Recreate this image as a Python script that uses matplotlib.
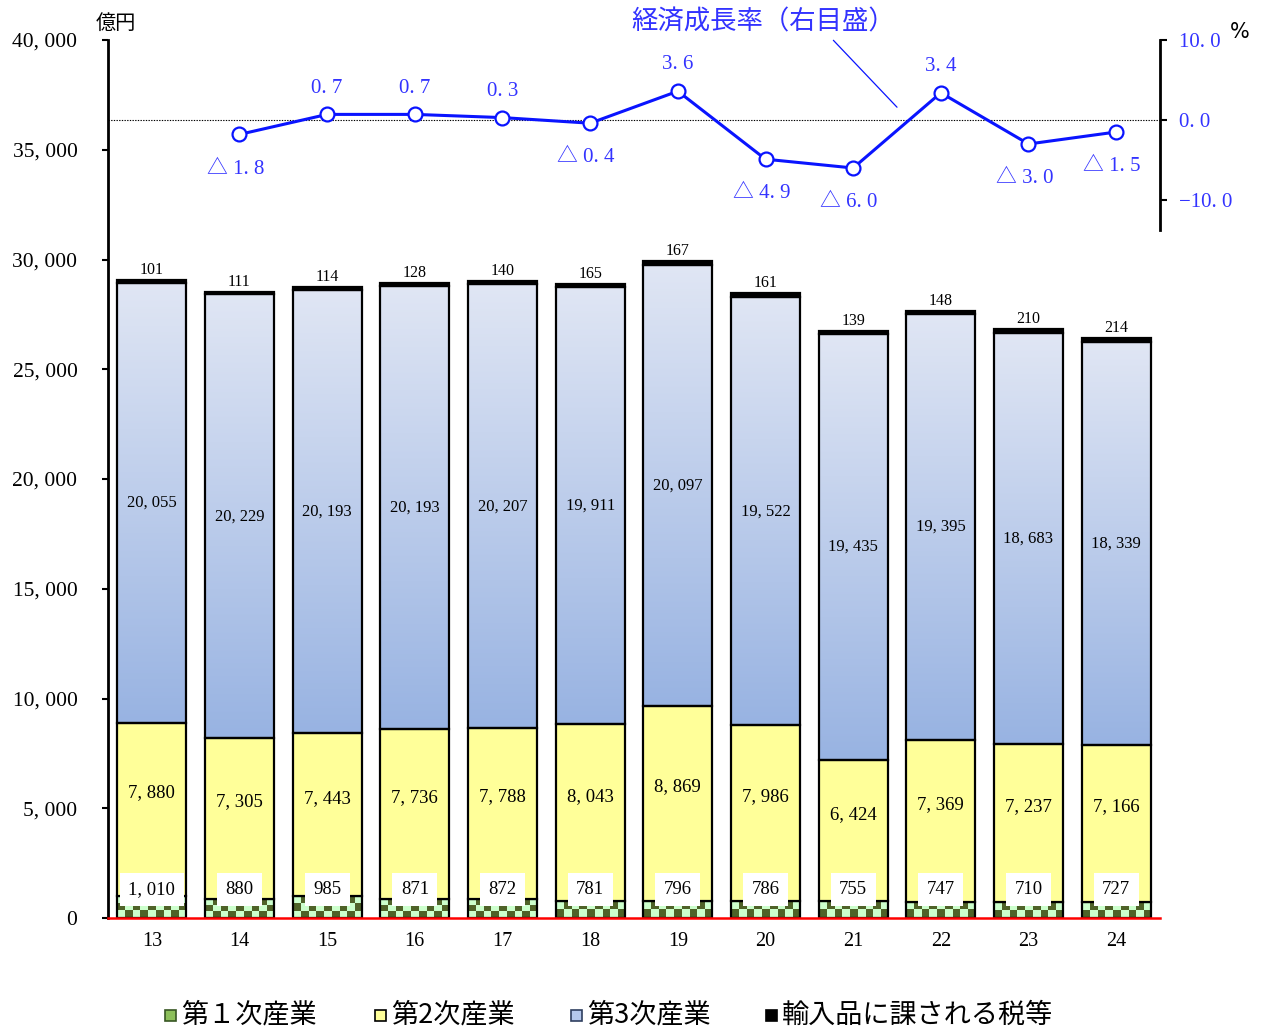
import numpy as np
import matplotlib
matplotlib.use("Agg")
import matplotlib.pyplot as plt
from matplotlib.colors import ListedColormap, LinearSegmentedColormap
from matplotlib.patches import Rectangle

plt.rcParams['font.family'] = ['Liberation Serif', 'Noto Sans CJK JP']

# 年度（平成）
years = ["13", "14", "15", "16", "17", "18", "19", "20", "21", "22", "23", "24"]
# 産業別総生産（億円）
primary = [1010, 880, 985, 871, 872, 781, 796, 786, 755, 747, 710, 727]
secondary = [7880, 7305, 7443, 7736, 7788, 8043, 8869, 7986, 6424, 7369, 7237, 7166]
tertiary = [20055, 20229, 20193, 20193, 20207, 19911, 20097, 19522, 19435, 19395, 18683, 18339]
import_tax = [101, 111, 114, 128, 140, 165, 167, 161, 139, 148, 210, 214]
# 経済成長率（％）: 平成14年度から
growth_years = ["14", "15", "16", "17", "18", "19", "20", "21", "22", "23", "24"]
growth = [-1.8, 0.7, 0.7, 0.3, -0.4, 3.6, -4.9, -6.0, 3.4, -3.0, -1.5]

legend_labels = ["第１次産業", "第2次産業", "第3次産業", "輸入品に課される税等"]

BLUE_TXT = "#3333ff"
LINE_BLUE = "#0a14ff"
W, H = 1263, 1027

fig = plt.figure(figsize=(W / 100, H / 100), dpi=100)
ax = fig.add_axes([108 / W, 1 - 918 / H, (1160 - 108) / W, (918 - 40) / H])

x = np.arange(len(years))
width = 0.79
p = np.array(primary)
s = np.array(secondary)
t = np.array(tertiary)
m = np.array(import_tax)
b_sec = p
b_ter = p + s
b_imp = p + s + t
total = b_imp + m

def fmt(v):
    return f"{v:,}".replace(",", ", ")

edge_kw = dict(edgecolor="black", linewidth=1.6)

# 第1次産業: 市松模様
check_cmap = ListedColormap(["#ccffcc", "#4f6228"])
bars_p = ax.bar(x, p, width, facecolor="none", zorder=3, **edge_kw)
for bar in bars_p:
    x0, y0 = bar.get_x(), bar.get_y()
    bw, bh = bar.get_width(), bar.get_height()
    nrows = max(1, int(round(bh / 320)))
    ncols = 9
    pattern = (np.add.outer(np.arange(nrows), np.arange(ncols)) % 2)
    im = ax.imshow(pattern, cmap=check_cmap, extent=[x0, x0 + bw, y0, y0 + bh],
                   interpolation="nearest", aspect="auto", zorder=2, vmin=0, vmax=1)
    im.set_clip_path(bar)

# 第2次産業
ax.bar(x, s, width, bottom=b_sec, facecolor="#ffff99", zorder=3, **edge_kw)

# 第3次産業: グラデーション
grad_cmap = LinearSegmentedColormap.from_list("ter", ["#e0e6f4", "#98b3e2"])
bars_t = ax.bar(x, t, width, bottom=b_ter, facecolor="none", zorder=3, **edge_kw)
grad = np.linspace(0, 1, 256).reshape(-1, 1)
for bar in bars_t:
    x0, y0 = bar.get_x(), bar.get_y()
    bw, bh = bar.get_width(), bar.get_height()
    im = ax.imshow(grad, cmap=grad_cmap, extent=[x0, x0 + bw, y0, y0 + bh],
                   interpolation="bilinear", aspect="auto", zorder=2)
    im.set_clip_path(bar)

# 輸入品に課される税等
ax.bar(x, m, width, bottom=b_imp, facecolor="black", zorder=3, **edge_kw)

ax.set_xlim(-0.5, 11.5)
ax.set_ylim(0, 40000)

# データラベル
for i in range(len(years)):
    ax.text(x[i], total[i] + 90, str(import_tax[i]), ha="center", va="bottom",
            fontsize=11.5, zorder=5)
    ax.text(x[i], b_ter[i] + t[i] / 2, fmt(tertiary[i]), ha="center", va="center",
            fontsize=12, zorder=5)
    ax.text(x[i], b_sec[i] + s[i] / 2 + 750, fmt(secondary[i]), ha="center",
            va="center", fontsize=13.5, zorder=5)
    ax.text(x[i], 1300, fmt(primary[i]), ha="center", va="center", fontsize=13.5,
            zorder=6, bbox=dict(boxstyle="square,pad=0.45", facecolor="white",
                                edgecolor="none"))

# 軸
ax.set_xticks(x, years)
ax.tick_params(axis="x", length=0, pad=10, labelsize=14.5)
yt = np.arange(0, 40001, 5000)
ax.set_yticks(yt, [fmt(v) for v in yt])
ax.tick_params(axis="y", direction="out", length=4, width=1.5, pad=18, labelsize=15.5)
for side in ("top", "right"):
    ax.spines[side].set_visible(False)
ax.spines["left"].set_linewidth(2)
ax.spines["bottom"].set_color("red")
ax.spines["bottom"].set_linewidth(1.8)
ax.spines["bottom"].set_zorder(4)

# 経済成長率（右目盛）
ax2 = ax.twinx()
ax2.set_ylim(10 - 878 / 8, 10)
ax2.set_xlim(ax.get_xlim())
gx = [years.index(g) for g in growth_years]
ax2.axhline(0, color="black", linestyle=(0, (1.2, 1.2)), linewidth=0.8, zorder=1)
ax2.plot(gx, growth, color=LINE_BLUE, linewidth=2.2, marker="o", markersize=10,
         markerfacecolor="white", markeredgecolor=LINE_BLUE, markeredgewidth=1.6,
         zorder=5)
for xi, v in zip(gx, growth):
    txt = f"{abs(v):.1f}".replace(".", ". ")
    if v < 0:
        ax2.annotate("△ " + txt, (xi, v), xytext=(-3, -25), textcoords="offset points",
                     ha="center", va="center", fontsize=15, color=BLUE_TXT)
    else:
        ax2.annotate(txt, (xi, v), xytext=(0, 19), textcoords="offset points",
                     ha="center", va="center", fontsize=15, color=BLUE_TXT)

ax2.set_yticks([10, 0, -10], ["10. 0", "0. 0", "−10. 0"])
ax2.tick_params(axis="y", direction="out", length=5, width=1.5, pad=9,
                labelsize=15, labelcolor=BLUE_TXT)
for side in ("top", "left", "bottom"):
    ax2.spines[side].set_visible(False)
ax2.spines["right"].set_linewidth(2)
ax2.spines["right"].set_bounds(-13.8, 10)

ax2.annotate("経済成長率（右目盛）", xy=(8.5, 1.6), xytext=(6.97, 12.25),
             textcoords="data", ha="center", va="center", fontsize=19,
             color=BLUE_TXT, family=["Noto Sans CJK JP"], annotation_clip=False,
             arrowprops=dict(arrowstyle="-", color=LINE_BLUE, linewidth=0.9,
                             relpos=(0.75, 0.0), shrinkA=2, shrinkB=0))

# 単位
fig.text(116 / W, 1 - 23 / H, "億円", ha="center", va="center", fontsize=14.5,
         family=["Noto Sans CJK JP"])
fig.text(1240 / W, 1 - 32 / H, "%", ha="center", va="center", fontsize=15,
         family=["DejaVu Sans"])

# 凡例
legend_x = [170, 380, 576, 771]
legend_face = ["#8cbf5a", "#ffff99", "#b4c7ec", "black"]
legend_edge = ["#375623", "black", "#2f3f60", "black"]
ly = 1015
sq = 11
for lx, lab, fc, ec in zip(legend_x, legend_labels, legend_face, legend_edge):
    fig.patches.append(Rectangle(((lx - sq / 2) / W, 1 - (ly + sq / 2) / H),
                                 sq / W, sq / H, transform=fig.transFigure,
                                 facecolor=fc, edgecolor=ec, linewidth=1.2))
    fig.text((lx + 11) / W, 1 - ly / H, lab, ha="left", va="center", fontsize=19.5,
             family=["Noto Sans CJK JP"])

fig.savefig("out.png", dpi=100)
